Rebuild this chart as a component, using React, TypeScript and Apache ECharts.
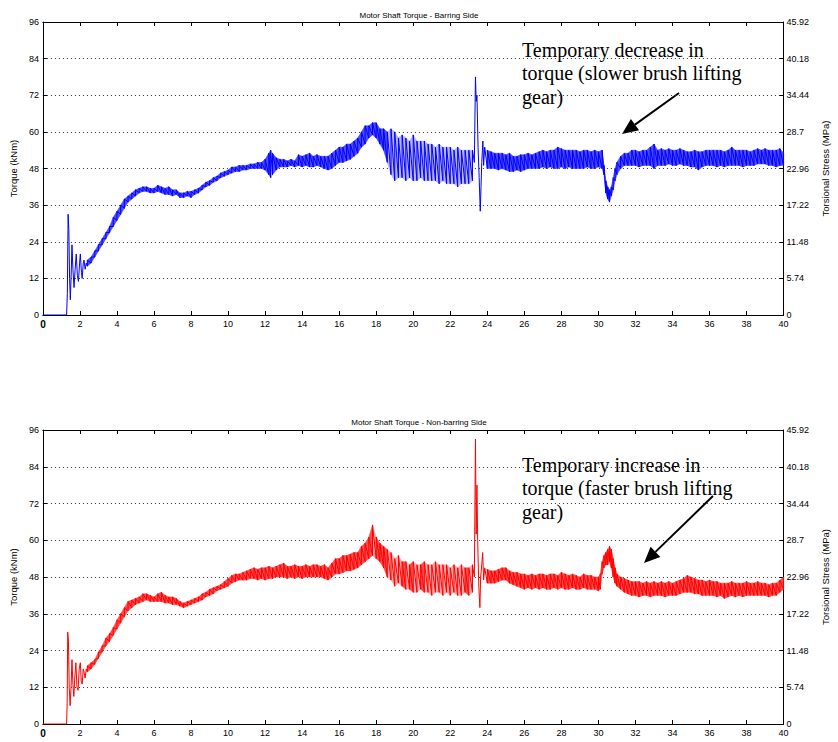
import React, { useEffect, useRef } from "react";
import * as echarts from "echarts";

// ---- Data (time s, low kNm, high kNm) ----
const stressLabels = ["0", "5.74", "11.48", "17.22", "22.96", "28.7", "34.44", "40.18", "45.92"];
const topTitle = "Motor Shaft Torque - Barring Side";
const bottomTitle = "Motor Shaft Torque - Non-barring Side";

const barringSide: number[][] = [
  [0, 0, 0], [1.28, 0, 0], [1.32, 7, 7], [1.36, 33, 33], [1.4, 28, 28], [1.44, 12, 12], [1.48, 5, 5],
  [1.52, 12, 12], [1.57, 23, 23], [1.62, 15, 15], [1.68, 9, 9], [1.74, 15, 15], [1.8, 20, 20],
  [1.86, 13, 13], [1.92, 11, 11], [1.98, 17, 17], [2.02, 20, 20], [2.08, 14, 14], [2.12, 12, 12],
  [2.18, 17, 17], [2.22, 18, 18], [2.28, 15, 15], [2.34, 17, 17],
  [2.4, 16, 18], [2.6, 17, 19], [2.8, 19, 21], [3.0, 21, 23], [3.2, 23, 25], [3.4, 25, 27], [3.6, 27, 29],
  [3.8, 29, 32], [4.0, 31, 34], [4.2, 33, 36], [4.4, 35, 38], [4.6, 37, 39], [4.8, 38, 40], [5.0, 39, 41],
  [5.2, 40, 41.5], [5.4, 40.5, 42], [5.6, 40.5, 42], [5.8, 40, 41.5], [6.0, 40, 41.5], [6.2, 40.5, 42.5],
  [6.4, 40, 42], [6.6, 39.5, 41.5], [6.8, 39.5, 42], [7.0, 39, 41], [7.2, 39.5, 41], [7.4, 38.5, 40],
  [7.6, 38.5, 40], [7.8, 39, 40.5], [8.0, 38.5, 40.5], [8.2, 39.5, 41], [8.4, 40, 41.5], [8.6, 41, 42.5],
  [8.8, 42, 43.5], [9.0, 42.5, 44], [9.2, 43.5, 45], [9.4, 44, 45.5], [9.6, 45, 46.5], [9.8, 45.5, 47],
  [10.0, 46, 47.5], [10.2, 46.5, 48.5], [10.4, 47, 48.5], [10.6, 47, 49], [10.8, 47.5, 49], [11.0, 47.5, 49],
  [11.2, 48, 49.5], [11.4, 48, 49.5], [11.6, 48, 50], [11.8, 48, 50], [12.0, 47.5, 51], [12.2, 46, 53],
  [12.3, 45, 54], [12.4, 46, 53], [12.6, 47.5, 51.5], [12.8, 48.5, 51], [13.0, 48.5, 51], [13.2, 48.5, 50.5],
  [13.4, 49, 51], [13.6, 48.5, 50.5], [13.8, 49, 52.5], [14.0, 48.5, 52], [14.2, 49, 52.5], [14.4, 48.5, 53],
  [14.6, 48.5, 52], [14.8, 49, 52.5], [15.0, 48.5, 52], [15.2, 48, 52], [15.4, 47.5, 52], [15.6, 48, 53],
  [15.8, 49, 54], [16.0, 50, 55], [16.2, 50, 55], [16.4, 50.5, 56], [16.6, 51, 56], [16.8, 52, 57],
  [17.0, 53, 58], [17.2, 55, 60], [17.4, 56, 62], [17.6, 58, 62], [17.8, 59, 63], [18.0, 58, 63],
  [18.2, 56, 61], [18.4, 54, 61], [18.6, 50, 60], [18.8, 46, 61], [19.0, 44, 60], [19.2, 45, 58],
  [19.4, 45, 59], [19.6, 44, 58], [19.8, 45, 57], [20.0, 44, 59], [20.2, 44, 57], [20.4, 45, 57],
  [20.6, 44, 57], [20.8, 44, 56], [21.0, 44, 56], [21.2, 44, 55], [21.4, 43, 56], [21.6, 44, 55],
  [21.8, 43, 55], [22.0, 43, 55], [22.2, 43, 54], [22.4, 42, 55], [22.6, 43, 54], [22.8, 43, 54],
  [23.0, 43, 54], [23.2, 44, 54],
  [23.3, 50, 50], [23.36, 78, 78], [23.4, 70, 70], [23.44, 72, 72], [23.5, 55, 55], [23.56, 45, 45],
  [23.62, 34, 34], [23.66, 42, 42], [23.7, 50, 50], [23.76, 57, 57], [23.8, 49, 49], [23.86, 55, 55],
  [24.0, 48, 54], [24.2, 48, 53.5], [24.4, 48, 53], [24.6, 47.5, 53], [24.8, 48, 53], [25.0, 47.5, 52.5],
  [25.2, 47, 53], [25.4, 47, 52], [25.6, 47.5, 52], [25.8, 47, 52.5], [26.0, 47.5, 52.5], [26.2, 48, 53],
  [26.4, 48, 52.5], [26.6, 48, 53], [26.8, 48, 53.5], [27.0, 48.5, 54], [27.2, 48, 53.5], [27.4, 48.5, 54],
  [27.6, 48, 54], [27.8, 48, 55], [28.0, 48.5, 54.5], [28.2, 48, 54], [28.4, 48.5, 54], [28.6, 48, 54],
  [28.8, 48, 54], [29.0, 48, 53.5], [29.2, 48, 54], [29.4, 48.5, 54], [29.6, 48, 53.5], [29.8, 48, 54],
  [30.0, 48.5, 53.5], [30.2, 48, 54],
  [30.3, 46, 49], [30.4, 40, 44], [30.5, 38, 42], [30.6, 37, 41], [30.7, 39, 42], [30.8, 41, 45],
  [30.9, 44, 48], [31.0, 46, 50], [31.2, 48, 52], [31.4, 49, 53], [31.6, 49, 53], [31.8, 49, 54],
  [32.0, 49, 54], [32.2, 48.5, 53.5], [32.4, 49, 54], [32.6, 49, 54], [32.8, 49, 55], [33.0, 48, 56],
  [33.2, 49, 54], [33.4, 49, 54.5], [33.6, 49, 54], [33.8, 49.5, 54.5], [34.0, 49, 54], [34.2, 49, 54],
  [34.4, 49.5, 54.5], [34.6, 49, 54], [34.8, 49, 53.5], [35.0, 48.5, 53.5], [35.2, 48.5, 54],
  [35.4, 47.5, 53.5], [35.6, 48.5, 53.5], [35.8, 49, 54], [36.0, 49, 54], [36.2, 49, 54], [36.4, 48.5, 54],
  [36.6, 49, 54], [36.8, 48.5, 53.5], [37.0, 49, 54], [37.2, 49, 55], [37.4, 49, 54], [37.6, 49, 54],
  [37.8, 48.5, 54], [38.0, 49, 54], [38.2, 49, 53.5], [38.4, 49, 54], [38.6, 49.5, 54.5], [38.8, 49.5, 54],
  [39.0, 49.5, 54.5], [39.2, 49, 54], [39.4, 49, 54], [39.6, 48.5, 54], [39.8, 49, 54.5], [40, 49, 53],
];

const nonBarringSide: number[][] = [
  [0, 0, 0], [1.28, 0, 0], [1.31, 7, 7], [1.34, 30, 30], [1.38, 27, 27], [1.42, 12, 12], [1.47, 6, 6],
  [1.52, 12, 12], [1.57, 21, 21], [1.62, 13, 13], [1.67, 9, 9], [1.72, 15, 15], [1.78, 20, 20],
  [1.84, 12, 12], [1.9, 11, 11], [1.96, 18, 18], [2.02, 20, 20], [2.07, 14, 14], [2.12, 13, 13],
  [2.18, 18, 18], [2.22, 17, 17], [2.28, 15, 15], [2.34, 18, 18],
  [2.4, 17, 19], [2.6, 18, 20], [2.8, 19.5, 21], [3.0, 21.5, 23.5], [3.2, 23.5, 25.5], [3.4, 25.5, 28],
  [3.6, 27, 29.5], [3.8, 29, 31.5], [4.0, 31, 34], [4.2, 33, 36], [4.4, 35, 38], [4.6, 37, 40],
  [4.8, 38, 40.5], [5.0, 39, 41], [5.2, 39.5, 41.5], [5.4, 40, 42.5], [5.6, 40.5, 42.5], [5.8, 40, 42],
  [6.0, 40, 41.5], [6.2, 40, 42.5], [6.4, 40, 43], [6.6, 39.5, 42], [6.8, 39.5, 41.5], [7.0, 39, 41.5],
  [7.2, 39, 41], [7.4, 38.5, 40], [7.6, 38, 39.5], [7.8, 38.5, 40], [8.0, 39, 40.5], [8.2, 39.5, 41],
  [8.4, 40, 41.5], [8.6, 40.5, 42.5], [8.8, 41.5, 43], [9.0, 42, 44], [9.2, 42.5, 44.5], [9.4, 43.5, 45],
  [9.6, 44, 45.5], [9.8, 44.5, 46.5], [10.0, 45, 47.5], [10.2, 46, 48.5], [10.4, 46.5, 49], [10.6, 47, 49],
  [10.8, 47, 49.5], [11.0, 47, 50], [11.2, 47.5, 50.5], [11.4, 47.5, 51], [11.6, 47, 50.5], [11.8, 47.5, 51],
  [12.0, 47, 51], [12.2, 47.5, 51.5], [12.4, 47.5, 51], [12.6, 48, 51.5], [12.8, 48, 52], [13.0, 48, 52.5],
  [13.2, 47.5, 51.5], [13.4, 48, 51.5], [13.6, 47.5, 52], [13.8, 48, 51.5], [14.0, 47.5, 51.5],
  [14.2, 48, 52], [14.4, 48, 51.5], [14.6, 48, 52], [14.8, 48, 52], [15.0, 48, 51.5], [15.2, 47.5, 52],
  [15.4, 47, 51], [15.6, 48, 52.5], [15.8, 49, 54], [16.0, 49, 54], [16.2, 49.5, 55], [16.4, 50, 55],
  [16.6, 50, 55.5], [16.8, 50.5, 56], [17.0, 51, 56], [17.2, 52, 58], [17.4, 53, 59], [17.6, 54, 61],
  [17.8, 55, 65], [18.0, 54, 61], [18.2, 53, 59], [18.4, 51, 58], [18.6, 48, 57], [18.8, 47, 56],
  [19.0, 45, 54], [19.2, 46, 55], [19.4, 45, 53], [19.6, 44, 53], [19.8, 44, 52], [20.0, 43, 53],
  [20.2, 43, 52], [20.4, 44, 52], [20.6, 43, 53], [20.8, 43, 52], [21.0, 42, 52], [21.2, 43, 53],
  [21.4, 43, 52], [21.6, 42, 52], [21.8, 43, 52], [22.0, 42, 51], [22.2, 43, 52], [22.4, 42, 51],
  [22.6, 42, 52], [22.8, 43, 51], [23.0, 42, 51], [23.2, 43, 52],
  [23.3, 48, 48], [23.36, 93, 93], [23.4, 62, 62], [23.44, 78, 78], [23.48, 60, 60], [23.54, 45, 45],
  [23.6, 38, 38], [23.64, 48, 48], [23.7, 52, 52], [23.75, 56, 56], [23.8, 47, 47], [23.86, 51, 51],
  [24.0, 46, 50.5], [24.2, 46, 50], [24.4, 46, 50], [24.6, 46.5, 50.5], [24.8, 47, 51], [25.0, 47, 51],
  [25.2, 46, 50], [25.4, 45.5, 49.5], [25.6, 45, 49.5], [25.8, 44.5, 49], [26.0, 44, 49], [26.2, 44.5, 48.5],
  [26.4, 44, 49], [26.6, 44.5, 48.5], [26.8, 44, 49], [27.0, 44.5, 49], [27.2, 44, 48.5], [27.4, 44, 49],
  [27.6, 44.5, 49], [27.8, 44, 48.5], [28.0, 44.5, 49.5], [28.2, 44, 49], [28.4, 44, 48.5], [28.6, 44.5, 49],
  [28.8, 44, 48.5], [29.0, 44, 48], [29.2, 44.5, 49], [29.4, 44, 48.5], [29.6, 44, 48.5], [29.8, 44, 48],
  [30.0, 43.5, 48], [30.1, 44, 49],
  [30.2, 49, 53], [30.3, 51, 55], [30.4, 52, 56], [30.5, 52, 57], [30.6, 53, 58], [30.7, 51, 57],
  [30.8, 48, 54], [30.9, 46, 51], [31.0, 45, 49], [31.2, 44, 48], [31.4, 43, 47.5], [31.6, 42.5, 47],
  [31.8, 42, 46.5], [32.0, 42, 46.5], [32.2, 41.5, 46.5], [32.4, 42, 46], [32.6, 42, 46.5], [32.8, 41.5, 46],
  [33.0, 42, 46.5], [33.2, 42, 46], [33.4, 42, 46.5], [33.6, 41.5, 46], [33.8, 42, 46.5], [34.0, 42, 46],
  [34.2, 42, 46.5], [34.4, 42.5, 47], [34.6, 43, 47.5], [34.8, 43, 48.5], [35.0, 43, 48], [35.2, 42.5, 47.5],
  [35.4, 42.5, 47], [35.6, 42, 47], [35.8, 42, 46.5], [36.0, 42, 47], [36.2, 42, 46.5], [36.4, 41.5, 46.5],
  [36.6, 42, 46], [36.8, 41, 46], [37.0, 41.5, 46], [37.2, 42, 46.5], [37.4, 41.5, 46], [37.6, 42, 46],
  [37.8, 41.5, 46], [38.0, 42, 46.5], [38.2, 42, 46], [38.4, 42, 46], [38.6, 42, 46.5], [38.8, 42, 46],
  [39.0, 42, 46], [39.2, 41.5, 45.5], [39.4, 42, 46], [39.6, 42, 46], [39.8, 43, 47], [40, 44, 48],
];

function toLine(rows: number[][]) {
  const out: number[][] = [];
  for (const [t, lo, hi] of rows) {
    out.push([t, lo]);
    if (hi !== lo) out.push([t, hi]);
  }
  return out;
}

// one quad per pair of consecutive rows (only where the row has a spread)
function toSegments(rows: number[][]) {
  const out: number[][] = [];
  for (let i = 0; i < rows.length - 1; i++) {
    const a = rows[i], b = rows[i + 1];
    if (a[2] === a[1] || b[2] === b[1]) continue;
    out.push([a[0], a[1], a[2], b[0], b[1], b[2]]);
  }
  return out;
}

function bandSeries(rows: number[][], xi: number, yi: number, color: string, light: string) {
  return {
    type: "custom", xAxisIndex: xi, yAxisIndex: yi, silent: true,
    data: toSegments(rows),
    encode: { x: [0, 3], y: [1, 2, 4, 5] },
    renderItem: (_p: any, api: any) => {
      const a1 = api.coord([api.value(0), api.value(1)]);
      const a2 = api.coord([api.value(0), api.value(2)]);
      const b2 = api.coord([api.value(3), api.value(5)]);
      const b1 = api.coord([api.value(3), api.value(4)]);
      const wide = api.value(2) - api.value(1) >= 8.5;
      const c = wide ? light : color;
      return {
        type: "polygon",
        shape: { points: [a1, a2, b2, b1] },
        style: { fill: c, stroke: c, lineWidth: 0.6 },
      };
    },
  };
}

function arrow(tail: number[], head: number[]) {
  const dx = head[0] - tail[0];
  const dy = head[1] - tail[1];
  const len = Math.sqrt(dx * dx + dy * dy);
  const ux = dx / len, uy = dy / len;
  const hl = 16, hw = 7;
  const bx = head[0] - ux * hl, by = head[1] - uy * hl;
  return [
    { type: "line", shape: { x1: tail[0], y1: tail[1], x2: bx, y2: by }, style: { stroke: "#000", lineWidth: 2 } },
    {
      type: "polygon",
      shape: { points: [[head[0], head[1]], [bx - uy * hw, by + ux * hw], [bx + uy * hw, by - ux * hw]] },
      style: { fill: "#000" },
    },
  ];
}

const SANS = "'Liberation Sans', Arial, sans-serif";
const SERIF = "'Liberation Serif', 'Times New Roman', serif";

export default function App() {
  const ref = useRef<HTMLDivElement>(null);
  useEffect(() => {
    if (!ref.current) return;
    const chart = echarts.init(ref.current, undefined, { renderer: "svg" });
    const grids = [
      { left: 41, top: 22, width: 755, height: 293 },
      { left: 41, top: 430, width: 755, height: 294 },
    ];
    const xAxis: any[] = [];
    const yAxis: any[] = [];
    grids.forEach((_, g) => {
      const xBase = {
        gridIndex: g, type: "value", min: 0, max: 40, interval: 2,
        axisLine: { show: true, onZero: false, lineStyle: { color: "#000", width: 1 } },
        axisTick: { show: true, inside: true, length: 4, lineStyle: { color: "#000" } },
        splitLine: { show: false },
      };
      xAxis.push({
        ...xBase, position: "bottom",
        axisLabel: {
          fontSize: 9, color: "#000", margin: 4, fontFamily: SANS,
          formatter: (v: number) => (v === 0 ? "{b|0}" : String(v)),
          rich: { b: { fontWeight: "bold", fontSize: 10, fontFamily: SANS, color: "#000" } },
        },
      });
      xAxis.push({ ...xBase, position: "top", axisLabel: { show: false } });
      const yBase = {
        gridIndex: g, type: "value", min: 0, max: 96, interval: 12,
        axisLine: { show: true, onZero: false, lineStyle: { color: "#000", width: 1 } },
        axisTick: { show: true, inside: true, length: 4, lineStyle: { color: "#000" } },
        nameLocation: "middle", nameRotate: 90,
        nameTextStyle: { fontSize: 9.5, color: "#000", fontFamily: SANS },
      };
      yAxis.push({
        ...yBase, position: "left", name: "Torque (kNm)", nameGap: 21,
        axisLabel: { fontSize: 9, color: "#000", margin: 4, fontFamily: SANS },
        splitLine: { show: true, lineStyle: { color: "#333", type: [1, 3], width: 1 } },
      });
      yAxis.push({
        ...yBase, position: "right", name: "Torsional Stress (MPa)", nameGap: 36,
        axisLabel: {
          fontSize: 9, color: "#000", margin: 3, fontFamily: SANS,
          formatter: (v: number) => stressLabels[Math.round(v / 12)],
        },
        splitLine: { show: false },
      });
    });
    chart.setOption({
      animation: false,
      backgroundColor: "#fff",
      title: [
        { text: topTitle, left: "center", top: 6, textStyle: { fontSize: 8, fontWeight: "normal", color: "#000", fontFamily: SANS } },
        { text: bottomTitle, left: "center", top: 413, textStyle: { fontSize: 8, fontWeight: "normal", color: "#000", fontFamily: SANS } },
      ],
      grid: grids,
      xAxis,
      yAxis,
      series: [
        bandSeries(barringSide, 0, 0, "#4a4aff", "#b4b4ff"),
        bandSeries(nonBarringSide, 2, 2, "#ff4a4a", "#ffa8a8"),
        {
          type: "line", xAxisIndex: 0, yAxisIndex: 0, data: toLine(barringSide),
          showSymbol: false, symbol: "none", lineStyle: { color: "#0000ff", width: 1 }, silent: true,
        },
        {
          type: "line", xAxisIndex: 2, yAxisIndex: 2, data: toLine(nonBarringSide),
          showSymbol: false, symbol: "none", lineStyle: { color: "#ff0000", width: 1 }, silent: true,
        },
      ],
      graphic: [
        {
          type: "text", left: 522, top: 38,
          style: {
            text: "Temporary decrease in\ntorque (slower brush lifting\ngear)",
            fontSize: 20, lineHeight: 23.5, fontFamily: SERIF, fill: "#000",
          },
        },
        ...arrow([679, 93], [622, 134]),
        {
          type: "text", left: 522, top: 453,
          style: {
            text: "Temporary increase in\ntorque (faster brush lifting\ngear)",
            fontSize: 20, lineHeight: 23.5, fontFamily: SERIF, fill: "#000",
          },
        },
        ...arrow([713, 496], [644, 563]),
      ],
    });
    return () => chart.dispose();
  }, []);
  return (
    <div
      ref={ref}
      style={{ position: "absolute", left: 0, top: 0, width: 838, height: 742, background: "#fff" }}
    />
  );
}
